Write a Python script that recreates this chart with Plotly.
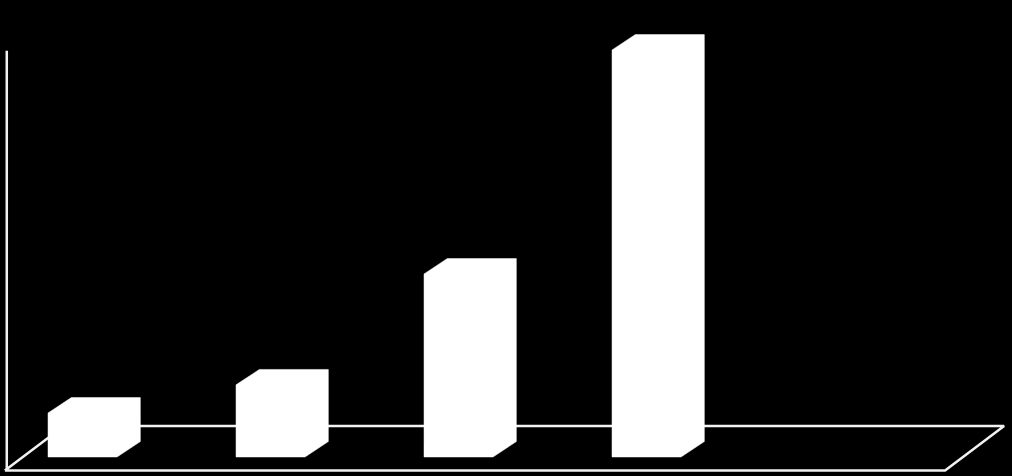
import plotly.graph_objects as go

# bar values (arbitrary units)
categories = ["A", "B", "C", "D"]
values = [10, 16.4, 41.6, 92.5]

# pseudo-3D geometry in axis units
BAR_W = 0.367     # front face width
DEPTH_X = 0.124   # depth offset in x
DEPTH_Y = 3.5     # depth offset in y

X_RANGE = [-0.439, 4.944]
Y_RANGE = [-4.32, 103.86]

# floor / wall frame, in axis units
FLOOR_FRONT_Y = -3.07
FLOOR_BACK_Y = 7.05
FLOOR_LEFT = -0.413
FLOOR_SKEW = 0.314
FLOOR_RIGHT = 4.588
WALL_TOP = 92.3

fig = go.Figure()

# floor parallelogram outline + left wall edge
fig.add_trace(go.Scatter(
    x=[FLOOR_LEFT, FLOOR_RIGHT, FLOOR_RIGHT + FLOOR_SKEW, FLOOR_LEFT + FLOOR_SKEW, FLOOR_LEFT],
    y=[FLOOR_FRONT_Y, FLOOR_FRONT_Y, FLOOR_BACK_Y, FLOOR_BACK_Y, FLOOR_FRONT_Y],
    mode='lines',
    line=dict(color='#F2F2F2', width=2.5),
    hoverinfo='skip', showlegend=False
))
fig.add_trace(go.Scatter(
    x=[FLOOR_LEFT + 0.01, FLOOR_LEFT + 0.01],
    y=[FLOOR_FRONT_Y, WALL_TOP],
    mode='lines',
    line=dict(color='#F2F2F2', width=2.5),
    hoverinfo='skip', showlegend=False
))

# bars: silhouette of a box (front + top + side, all white)
for i, (cat, v) in enumerate(zip(categories, values)):
    x0 = i - BAR_W / 2
    x1 = i + BAR_W / 2
    xs = [x0, x0, x0 + DEPTH_X, x1 + DEPTH_X, x1 + DEPTH_X, x1, x0]
    ys = [0, v, v + DEPTH_Y, v + DEPTH_Y, DEPTH_Y, 0, 0]
    fig.add_trace(go.Scatter(
        x=xs, y=ys,
        mode='lines',
        fill='toself',
        fillcolor='#FFFFFF',
        line=dict(color='#FFFFFF', width=0.5),
        name=cat,
        hoverinfo='name',
        showlegend=False
    ))

fig.update_xaxes(range=X_RANGE, visible=False, fixedrange=True)
fig.update_yaxes(range=Y_RANGE, visible=False, fixedrange=True)
fig.update_layout(
    width=1012,
    height=476,
    margin=dict(l=0, r=0, t=0, b=0),
    paper_bgcolor='#000000',
    plot_bgcolor='#000000',
    showlegend=False
)

# drop the default page margin so the figure fills the window
fig.write_html(
    "out.html",
    config={'displayModeBar': False},
    post_script="document.body.style.margin='0';document.body.style.background='#000';"
)
